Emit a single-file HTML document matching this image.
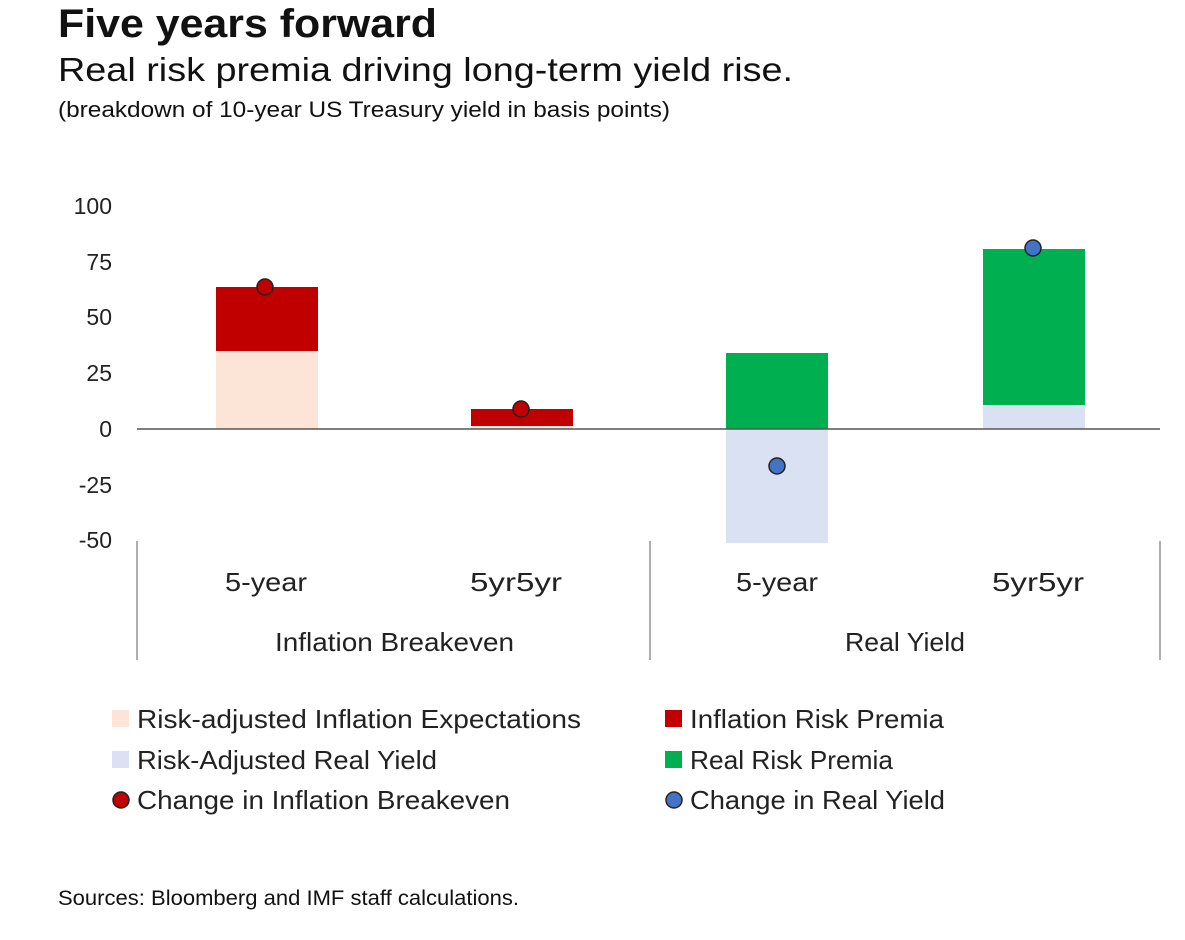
<!DOCTYPE html>
<html><head><meta charset="utf-8"><style>
body{margin:0;background:#fff;width:1185px;height:935px;overflow:hidden;font-family:"Liberation Sans",sans-serif;}
</style></head><body>
<svg width="1185" height="935" xmlns="http://www.w3.org/2000/svg" font-family="Liberation Sans, sans-serif">
<text x="58" y="37" font-size="40" font-weight="bold" fill="#111" textLength="379" lengthAdjust="spacingAndGlyphs">Five years forward</text>
<text x="58" y="81" font-size="33" fill="#111" textLength="735" lengthAdjust="spacingAndGlyphs">Real risk premia driving long-term yield rise.</text>
<text x="58" y="117" font-size="22" fill="#111" textLength="612" lengthAdjust="spacingAndGlyphs">(breakdown of 10-year US Treasury yield in basis points)</text>
<g font-size="23" fill="#222" text-anchor="end">
<text x="112" y="214">100</text><text x="112" y="270">75</text><text x="112" y="325">50</text>
<text x="112" y="381">25</text><text x="112" y="437">0</text><text x="112" y="493">-25</text><text x="112" y="548">-50</text>
</g>
<rect x="216" y="351" width="102" height="78" fill="#fce4d6"/>
<rect x="216" y="287" width="102" height="64" fill="#c00000"/>
<rect x="471" y="426" width="102" height="3" fill="#fce4d6"/>
<rect x="471" y="409" width="102" height="17" fill="#c00000"/>
<rect x="726" y="429" width="102" height="114" fill="#d9e1f2"/>
<rect x="726" y="353" width="102" height="76" fill="#00b050"/>
<rect x="983" y="405" width="102" height="24" fill="#d9e1f2"/>
<rect x="983" y="249" width="102" height="156" fill="#00b050"/>
<line x1="137" y1="429" x2="1160" y2="429" stroke="#555" stroke-width="1.5"/>
<g stroke="#777" stroke-width="1.2">
<line x1="137" y1="541" x2="137" y2="660"/><line x1="650" y1="541" x2="650" y2="660"/><line x1="1160" y1="541" x2="1160" y2="660"/>
</g>
<g stroke="#222" stroke-width="1.5">
<circle cx="265" cy="287" r="8" fill="#c00000"/>
<circle cx="521" cy="409" r="8" fill="#c00000"/>
<circle cx="777" cy="466" r="8" fill="#4472c4"/>
<circle cx="1033" cy="248" r="8" fill="#4472c4"/>
</g>
<g font-size="26" fill="#222">
<text x="225" y="591" textLength="82" lengthAdjust="spacingAndGlyphs">5-year</text>
<text x="470" y="591" textLength="92" lengthAdjust="spacingAndGlyphs">5yr5yr</text>
<text x="736" y="591" textLength="82" lengthAdjust="spacingAndGlyphs">5-year</text>
<text x="992" y="591" textLength="92" lengthAdjust="spacingAndGlyphs">5yr5yr</text>
<text x="275" y="651" textLength="239" lengthAdjust="spacingAndGlyphs">Inflation Breakeven</text>
<text x="845" y="651" textLength="120" lengthAdjust="spacingAndGlyphs">Real Yield</text>
</g>
<g font-size="26" fill="#222">
<rect x="112" y="710" width="17" height="17" fill="#fce4d6"/><text x="137" y="728" textLength="444" lengthAdjust="spacingAndGlyphs">Risk-adjusted Inflation Expectations</text>
<rect x="665" y="710" width="17" height="17" fill="#c00000"/><text x="690" y="728" textLength="254" lengthAdjust="spacingAndGlyphs">Inflation Risk Premia</text>
<rect x="112" y="751" width="17" height="17" fill="#d9e1f2"/><text x="137" y="769" textLength="300" lengthAdjust="spacingAndGlyphs">Risk-Adjusted Real Yield</text>
<rect x="665" y="751" width="17" height="17" fill="#00b050"/><text x="690" y="769" textLength="203" lengthAdjust="spacingAndGlyphs">Real Risk Premia</text>
<circle cx="121" cy="800" r="8" fill="#c00000" stroke="#222" stroke-width="1.5"/><text x="137" y="809" textLength="373" lengthAdjust="spacingAndGlyphs">Change in Inflation Breakeven</text>
<circle cx="674" cy="800" r="8" fill="#4472c4" stroke="#222" stroke-width="1.5"/><text x="690" y="809" textLength="255" lengthAdjust="spacingAndGlyphs">Change in Real Yield</text>
</g>
<text x="58" y="905" font-size="21" fill="#111" textLength="461" lengthAdjust="spacingAndGlyphs">Sources: Bloomberg and IMF staff calculations.</text>
</svg>
</body></html>
